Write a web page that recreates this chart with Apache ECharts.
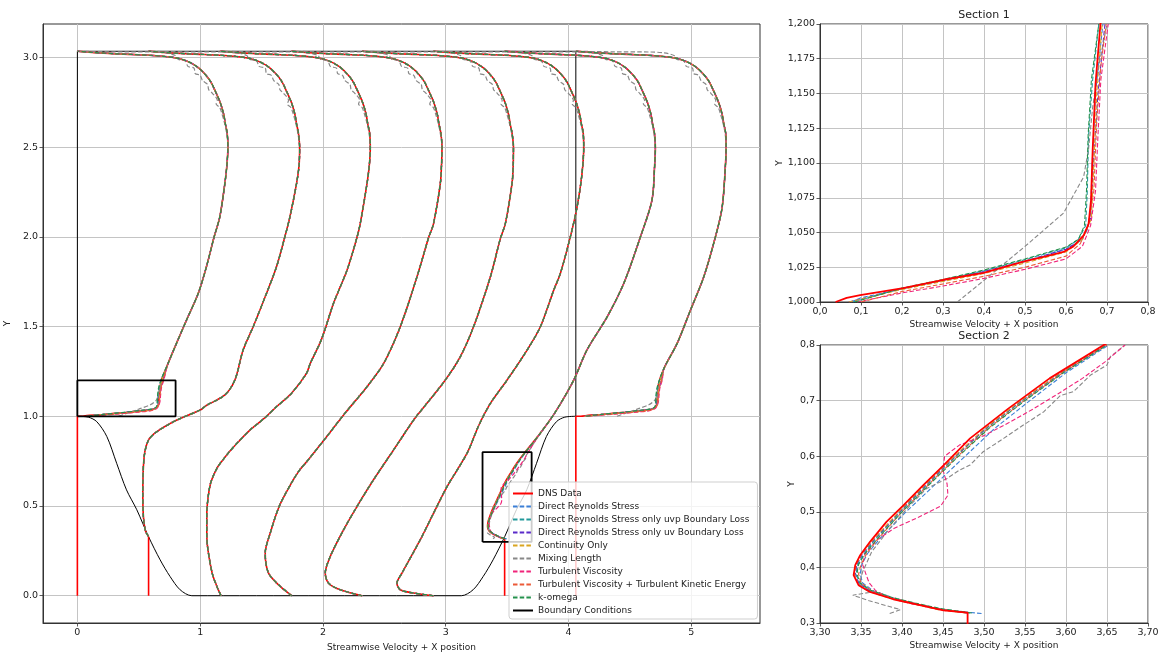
<!DOCTYPE html>
<html><head><meta charset="utf-8">
<script src="https://cdn.jsdelivr.net/npm/echarts@6/dist/echarts.min.js"></script>
<style>html,body{margin:0;padding:0;background:#fff}#c{width:1158px;height:652px}</style>
</head><body><div id="c"></div>
<script>
// ---------- data ----------
const stations = [0, 0.58, 1.16, 1.74, 2.32, 2.90, 3.48, 4.06];
const names = ['DNS Data','Direct Reynolds Stress','Direct Reynolds Stress only uvp Boundary Loss',
  'Direct Reynolds Stress only uv Boundary Loss','Continuity Only','Mixing Length','Turbulent Viscosity',
  'Turbulent Viscosity + Turbulent Kinetic Energy','k-omega','Boundary Conditions'];

// common upper part of every profile (near top wall) [u, y]
const topProfile = [[1.22,2.58],[1.205,2.63],[1.192,2.682],[1.164,2.747],[1.123,2.812],[1.083,2.868],[1.029,2.914],[0.974,2.948],[0.907,2.975],[0.825,2.994],[0.716,3.005],[0.58,3.012],[0.42,3.017],[0.31,3.02],[0.12,3.028],[0,3.034]];
const mlTop = [[1.215,2.58],[1.2,2.63],[1.18,2.68],[1.16,2.72],[1.13,2.74],[1.14,2.76],[1.1,2.8],[1.07,2.82],[1.06,2.85],[1.02,2.87],[1.0,2.9],[0.96,2.91],[0.95,2.94],[0.9,2.95],[0.88,2.98],[0.82,2.99],[0.8,3.01],[0.72,3.025],[0.6,3.03],[0.3,3.031],[0,3.034]];

// DNS profiles [u, y] (x plotted = station + u)
const dns1 = [[0,0],[0,1.0],[0.038,1.0],[0.065,1.003],[0.098,1.005],[0.203,1.010],[0.301,1.016],[0.399,1.021],[0.496,1.029],[0.553,1.033],[0.594,1.036],[0.618,1.040],[0.643,1.048],[0.655,1.056],[0.661,1.073],[0.665,1.109],[0.672,1.157],[0.684,1.2],[0.739,1.295],[0.807,1.406],[0.889,1.536],[0.984,1.684],[1.051,1.833],[1.114,2.0],[1.16,2.111],[1.201,2.296],[1.218,2.4],[1.226,2.5]];
const dns2 = [[0,0],[0,0.33],[-0.025,0.36],[-0.042,0.441],[-0.047,0.571],[-0.036,0.775],[0,0.868],[0.067,0.914],[0.23,0.979],[0.42,1.035],[0.47,1.06],[0.621,1.119],[0.703,1.202],[0.77,1.369],[0.852,1.499],[0.96,1.684],[1.042,1.833],[1.11,2.0],[1.151,2.111],[1.205,2.296],[1.226,2.4],[1.23,2.5]];
const dns3 = [[0.01,0],[-0.024,0.052],[-0.062,0.126],[-0.1,0.274],[-0.106,0.35],[-0.106,0.45],[-0.095,0.55],[-0.075,0.627],[-0.045,0.68],[-0.015,0.72],[0.025,0.757],[0.09,0.812],[0.166,0.868],[0.247,0.924],[0.356,0.985],[0.462,1.053],[0.584,1.128],[0.706,1.239],[0.737,1.295],[0.829,1.43],[0.926,1.629],[1.036,1.814],[1.117,1.996],[1.144,2.074],[1.199,2.296],[1.218,2.4],[1.226,2.5]];
const dns4 = [[0.007,0],[-0.088,0.052],[-0.183,0.126],[-0.21,0.238],[-0.169,0.349],[-0.095,0.5],[0.005,0.63],[0.07,0.7],[0.14,0.757],[0.29,0.886],[0.44,1.017],[0.619,1.165],[0.755,1.295],[0.89,1.499],[1.026,1.777],[1.121,1.996],[1.161,2.074],[1.216,2.296],[1.226,2.4],[1.23,2.5]];
const dns5 = [[0,0],[-0.179,0.033],[-0.274,0.07],[-0.301,0.126],[-0.26,0.219],[-0.152,0.367],[-0.043,0.497],[0.092,0.646],[0.255,0.812],[0.425,0.985],[0.527,1.072],[0.677,1.202],[0.799,1.332],[0.907,1.499],[1.044,1.777],[1.125,1.99],[1.166,2.074],[1.22,2.296],[1.23,2.4],[1.232,2.5]];
const dns6 = [[0,0],[-0.162,0.015],[-0.27,0.033],[-0.297,0.07],[-0.256,0.126],[-0.107,0.312],[0.001,0.46],[0.111,0.608],[0.274,0.794],[0.37,0.95],[0.464,1.072],[0.6,1.202],[0.763,1.369],[0.871,1.499],[0.98,1.703],[1.034,1.796],[1.115,2.0],[1.17,2.166],[1.21,2.35],[1.224,2.5]];
const dns7 = [[0,0],[0,0.3187],[-0.0295,0.3228],[-0.058,0.332],[-0.0905,0.3427],[-0.119,0.3558],[-0.133,0.368],[-0.139,0.386],[-0.137,0.404],[-0.131,0.422],[-0.119,0.446],[-0.099,0.482],[-0.078,0.512],[-0.054,0.548],[-0.029,0.584],[0.003,0.632],[0.05,0.686],[0.1,0.74],[0.166,0.8],[0.29,0.905],[0.41,1.02],[0.563,1.202],[0.67,1.369],[0.835,1.554],[0.97,1.74],[1.106,2.0],[1.2,2.204],[1.222,2.4],[1.228,2.5]];
const dns8 = [[0,0],[0,1.0],[0.04,1.0],[0.1,1.005],[0.2,1.01],[0.3,1.016],[0.4,1.022],[0.5,1.029],[0.6,1.037],[0.634,1.044],[0.655,1.058],[0.663,1.1],[0.675,1.184],[0.72,1.27],[0.825,1.406],[0.934,1.592],[1.042,1.777],[1.137,2.0],[1.192,2.166],[1.219,2.404],[1.224,2.5]];
const dnsProfiles = [dns1, dns2, dns3, dns4, dns5, dns6, dns7, dns8];
const belowHillPoints = [2, 2, 0, 0, 0, 0, 2, 2];

// Section 1 (near x = 0, y 1.0-1.2) model profiles [u, y]
const s1Drs  = [[0.075,1.0],[0.1,1.003],[0.2,1.0095],[0.3,1.0155],[0.4,1.0215],[0.5,1.029],[0.6,1.038],[0.635,1.044],[0.652,1.052],[0.66,1.065],[0.664,1.1],[0.672,1.15],[0.69,1.2]];
const s1Uvp  = [[0.08,1.0],[0.2,1.0098],[0.3,1.016],[0.4,1.0225],[0.5,1.0305],[0.6,1.039],[0.63,1.045],[0.648,1.055],[0.652,1.08],[0.655,1.12],[0.665,1.16],[0.68,1.2]];
const s1Uv   = [[0.07,1.0],[0.2,1.0095],[0.3,1.0155],[0.4,1.022],[0.5,1.0295],[0.6,1.038],[0.64,1.045],[0.66,1.06],[0.667,1.1],[0.678,1.15],[0.695,1.2]];
const s1Cont = [[0.07,1.0],[0.2,1.009],[0.3,1.0148],[0.4,1.0205],[0.5,1.028],[0.6,1.036],[0.64,1.045],[0.662,1.06],[0.668,1.1],[0.675,1.15],[0.688,1.2]];
const s1Ml   = [[0.335,1.0],[0.4,1.0156],[0.5,1.04],[0.594,1.064],[0.643,1.09],[0.655,1.11],[0.665,1.14],[0.68,1.17],[0.70,1.2]];
const s1Tv   = [[0.09,1.0],[0.2,1.0065],[0.3,1.0115],[0.4,1.017],[0.5,1.0235],[0.6,1.031],[0.64,1.04],[0.66,1.055],[0.672,1.08],[0.678,1.12],[0.685,1.16],[0.703,1.2]];
const s1Tvk  = [[0.1,1.0],[0.2,1.0075],[0.3,1.013],[0.4,1.0185],[0.5,1.025],[0.6,1.033],[0.635,1.042],[0.655,1.056],[0.668,1.08],[0.675,1.13],[0.685,1.17],[0.698,1.2]];
const s1Kw   = [[0.085,1.0],[0.2,1.01],[0.3,1.0162],[0.4,1.023],[0.5,1.031],[0.6,1.0395],[0.63,1.045],[0.645,1.055],[0.65,1.08],[0.654,1.12],[0.662,1.16],[0.68,1.2]];

// Section 2 (x 3.3-3.7, y 0.3-0.8) model profiles [x, y]
const s2Drs  = [[3.497,0.317],[3.45,0.324],[3.418,0.334],[3.39,0.345],[3.365,0.358],[3.352,0.372],[3.349,0.388],[3.351,0.405],[3.358,0.425],[3.372,0.45],[3.405,0.5],[3.441,0.55],[3.477,0.6],[3.513,0.65],[3.556,0.7],[3.6,0.75],[3.652,0.8]];
const s2Uvp  = [[3.483,0.318],[3.446,0.325],[3.415,0.335],[3.387,0.345],[3.361,0.358],[3.348,0.372],[3.344,0.388],[3.346,0.405],[3.354,0.425],[3.367,0.45],[3.398,0.5],[3.432,0.55],[3.466,0.6],[3.503,0.65],[3.547,0.7],[3.595,0.75],[3.649,0.8]];
const s2Uv   = [[3.48,0.318],[3.444,0.325],[3.414,0.335],[3.386,0.345],[3.36,0.358],[3.347,0.372],[3.343,0.388],[3.345,0.405],[3.352,0.425],[3.366,0.45],[3.397,0.5],[3.43,0.55],[3.465,0.6],[3.502,0.65],[3.546,0.7],[3.594,0.75],[3.648,0.8]];
const s2Cont = [[3.478,0.318],[3.444,0.324],[3.414,0.334],[3.386,0.344],[3.359,0.357],[3.346,0.371],[3.342,0.388],[3.344,0.405],[3.351,0.425],[3.365,0.45],[3.396,0.5],[3.429,0.55],[3.464,0.6],[3.501,0.65],[3.545,0.7],[3.593,0.75],[3.647,0.8]];
const s2Ml   = [[3.385,0.317],[3.398,0.324],[3.36,0.34],[3.34,0.35],[3.36,0.355],[3.348,0.37],[3.352,0.392],[3.363,0.428],[3.385,0.47],[3.41,0.512],[3.43,0.542],[3.447,0.554],[3.455,0.56],[3.47,0.575],[3.483,0.584],[3.499,0.608],[3.524,0.632],[3.548,0.656],[3.573,0.68],[3.593,0.709],[3.609,0.716],[3.63,0.746],[3.65,0.764],[3.654,0.779],[3.672,0.8]];
const s2Tv   = [[3.48,0.318],[3.445,0.325],[3.41,0.335],[3.385,0.345],[3.368,0.358],[3.36,0.372],[3.356,0.388],[3.352,0.405],[3.355,0.425],[3.37,0.45],[3.39,0.47],[3.42,0.49],[3.447,0.51],[3.456,0.53],[3.455,0.55],[3.45,0.575],[3.452,0.6],[3.47,0.62],[3.5,0.637],[3.53,0.66],[3.56,0.685],[3.59,0.712],[3.62,0.74],[3.648,0.77],[3.672,0.8]];
const s2Tvk  = [[3.482,0.318],[3.446,0.325],[3.416,0.335],[3.389,0.345],[3.363,0.358],[3.35,0.372],[3.347,0.388],[3.35,0.405],[3.357,0.425],[3.37,0.45],[3.4,0.5],[3.433,0.55],[3.468,0.6],[3.505,0.65],[3.549,0.7],[3.596,0.75],[3.65,0.8]];
const s2Kw   = [[3.485,0.318],[3.447,0.326],[3.416,0.336],[3.388,0.346],[3.362,0.359],[3.349,0.372],[3.345,0.388],[3.347,0.405],[3.355,0.425],[3.369,0.45],[3.4,0.5],[3.434,0.55],[3.469,0.6],[3.506,0.65],[3.55,0.7],[3.597,0.75],[3.65,0.8]];

// boundary: walls and hill floor
const wallX = [0, 0, 4.06, 4.06];
const wallY = [1.0, 3.034, 3.034, 1.0];
const hillX = [0, 0.09, 0.158, 0.24, 0.32, 0.40, 0.484, 0.579, 0.674, 0.755, 0.837, 0.932, 3.128, 3.223, 3.305, 3.386, 3.481, 3.576, 3.66, 3.74, 3.82, 3.902, 3.97, 4.06];
const hillY = [1.0, 0.995, 0.97, 0.887, 0.738, 0.59, 0.479, 0.33, 0.2, 0.107, 0.033, 0, 0, 0.033, 0.107, 0.2, 0.33, 0.479, 0.59, 0.738, 0.887, 0.97, 0.995, 1.0];
const box1X = [0, 0.8, 0.8, 0, 0], box1Y = [1.0, 1.0, 1.2, 1.2, 1.0];
const box2X = [3.3, 3.7, 3.7, 3.3, 3.3], box2Y = [0.3, 0.3, 0.8, 0.8, 0.3];

const mainXTicks = [0,1,2,3,4,5];
const mainYTicks = [0,0.5,1.0,1.5,2.0,2.5,3.0];
const s1XTicks = [0,0.1,0.2,0.3,0.4,0.5,0.6,0.7,0.8];
const s1YTicks = [1.0,1.025,1.05,1.075,1.1,1.125,1.15,1.175,1.2];
const s2XTicks = [3.3,3.35,3.4,3.45,3.5,3.55,3.6,3.65,3.7];
const s2YTicks = [0.3,0.4,0.5,0.6,0.7,0.8];

// ---------- styling ----------
const FONT = 'DejaVu Sans';
const colors = ['#ff0000','#3b7fd6','#22999b','#5b2bc9','#daa520','#888888','#f0247a','#ec5a38','#24914c','#000000'];
const models = [
  {name:names[1], c:colors[1], s1:s1Drs, s2:s2Drs},
  {name:names[2], c:colors[2], s1:s1Uvp, s2:s2Uvp},
  {name:names[3], c:colors[3], s1:s1Uv,  s2:s2Uv},
  {name:names[4], c:colors[4], s1:s1Cont,s2:s2Cont},
  {name:names[5], c:colors[5], s1:s1Ml,  s2:s2Ml, ml:true},
  {name:names[6], c:colors[6], s1:s1Tv,  s2:s2Tv},
  {name:names[7], c:colors[7], s1:s1Tvk, s2:s2Tvk},
  {name:names[8], c:colors[8], s1:s1Kw,  s2:s2Kw}
];
const shift = (prof, x0) => prof.map(p => [x0 + p[0], p[1]]);
const zip = (xs, ys) => xs.map((x, i) => [x, ys[i]]);

function line(name, data, color, gi, opt) {
  opt = opt || {};
  return {
    type:'line', name, data, xAxisIndex:gi, yAxisIndex:gi,
    showSymbol:false, symbol:'none', animation:false, silent:true, clip:true,
    smooth: opt.smooth || false,
    z: opt.z || 2,
    lineStyle:{color, width: opt.w || 1.2, type: opt.dash ? [4.5, 2.2] : 'solid'},
    itemStyle:{color}
  };
}

const series = [];
// main chart: boundary
series.push(line(names[9], zip(wallX, wallY), '#000', 0, {w:1}));
series.push(line(names[9], zip(hillX, hillY), '#000', 0, {w:1, smooth:0.3}));
// main chart: DNS (below-hill part straight, profile smoothed)
dnsProfiles.forEach((p, k) => {
  const b = belowHillPoints[k];
  if (b > 0) series.push(line(names[0], shift(p.slice(0, b), stations[k]), colors[0], 0, {w:1.6}));
  series.push(line(names[0], shift(p.slice(Math.max(b - 1, 0)).concat(topProfile), stations[k]), colors[0], 0, {w:1.6, smooth:0.3}));
});
// main chart: models
models.forEach(m => {
  dnsProfiles.forEach((p, k) => {
    const top = m.ml ? mlTop : topProfile;
    const b = belowHillPoints[k];
    let d;
    if (k === 0 || k === 7) {
      d = shift(m.s1.concat(p.filter(q => q[1] > 1.2)), stations[k]);
    } else if (k === 6) {
      d = m.s2.concat(shift(p.filter(q => q[1] > 0.8), stations[k]));
    } else {
      d = shift(p.slice(Math.max(b - 1, 0)), stations[k]);
    }
    d = d.concat(shift(top, stations[k]));
    series.push(line(m.name, d, m.c, 0, {dash:true, w:1.2, smooth:0.3}));
  });
});
// zoom boxes
series.push(line('box1', zip(box1X, box1Y), '#000', 0, {w:1.8, z:3}));
series.push(line('box2', zip(box2X, box2Y), '#000', 0, {w:1.8, z:3}));
// sections
models.forEach(m => {
  series.push(line(m.name, m.s1, m.c, 1, {dash:true, w:1.1}));
  series.push(line(m.name, m.s2, m.c, 2, {dash:true, w:1.1}));
});
series.push(line(names[0], dns1.slice(2), colors[0], 1, {w:1.8, z:3}));
series.push(line(names[0], shift(dns7, stations[6]), colors[0], 2, {w:1.8, z:3}));

const labelStyle = {fontFamily:FONT, fontSize:9.5, color:'#222'};
function axis(gi, min, max, ticks, fmt, name, nameGap) {
  return {
    type:'value', gridIndex:gi, min, max, name, nameLocation:'middle', nameGap,
    nameTextStyle:{fontFamily:FONT, fontSize:9, color:'#222'},
    axisLine:{show:true, onZero:false, lineStyle:{color:'#333', width:1}},
    axisTick:{show:true, customValues:ticks, length:3.5, lineStyle:{color:'#333', width:0.8}},
    axisLabel:{customValues:ticks, formatter:fmt, margin:5, ...labelStyle},
    splitLine:{show:true, lineStyle:{color:'#c4c4c4', width:1}}
  };
}
const comma = d => v => v.toFixed(d).replace('.', ',');

const gridBase = {show:true, borderColor:'#333', borderWidth:1, containLabel:false, outerBoundsMode:'none'};
const option = {
  backgroundColor:'#fff',
  animation:false,
  grid:[
    {...gridBase, left:43, top:24, width:717, height:599},
    {...gridBase, left:820, top:24, width:328, height:278},
    {...gridBase, left:820, top:345, width:328, height:278}
  ],
  xAxis:[
    axis(0, -0.28, 5.56, mainXTicks, v => String(v), 'Streamwise Velocity + X position', 18),
    axis(1, 0, 0.8, s1XTicks, comma(1), 'Streamwise Velocity + X position', 18),
    axis(2, 3.3, 3.7, s2XTicks, comma(2), 'Streamwise Velocity + X position', 18)
  ],
  yAxis:[
    axis(0, -0.152, 3.186, mainYTicks, v => v.toFixed(1), 'Y', 27),
    axis(1, 1.0, 1.2, s1YTicks, comma(3), 'Y', 35),
    axis(2, 0.3, 0.8, s2YTicks, comma(1), 'Y', 24)
  ],
  legend:{
    data:names, orient:'vertical', left:509, top:482,
    itemWidth:20, itemHeight:10, itemGap:4,
    padding:[7,8,4,3],
    itemStyle:{opacity:0},
    backgroundColor:'rgba(255,255,255,0.8)', borderColor:'#cfcfcf', borderWidth:1, borderRadius:3,
    textStyle:{fontFamily:FONT, fontSize:9, color:'#222'},
    selectedMode:false
  },
  graphic:[
    {type:'text', x:984, y:15, style:{text:'Section 1', font:'11px "DejaVu Sans"', fill:'#222', align:'center', verticalAlign:'middle', textAlign:'center', textVerticalAlign:'middle'}},
    {type:'text', x:984, y:336, style:{text:'Section 2', font:'11px "DejaVu Sans"', fill:'#222', align:'center', verticalAlign:'middle', textAlign:'center', textVerticalAlign:'middle'}}
  ],
  series
};
const chart = echarts.init(document.getElementById('c'), null, {renderer:'canvas'});
chart.setOption(option);
</script></body></html>
